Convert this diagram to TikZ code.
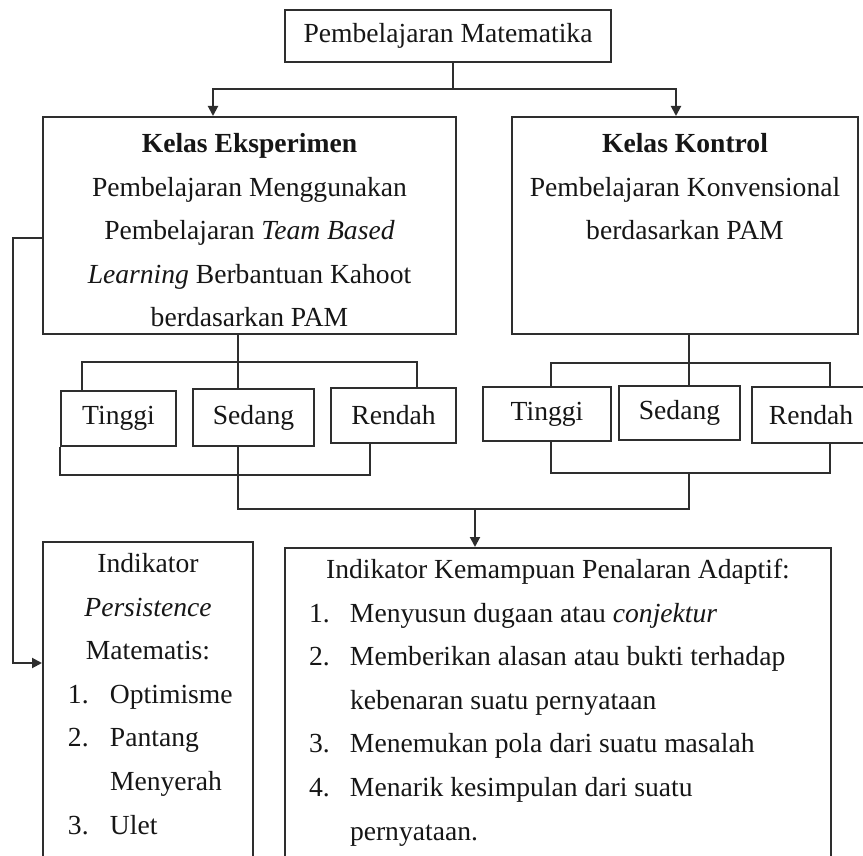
\documentclass[tikz,border=0pt]{standalone}
\usepackage{fontspec}
\setmainfont{Liberation Serif}
\usetikzlibrary{arrows.meta}
\definecolor{garis}{HTML}{2E2E2E}
\definecolor{teks}{HTML}{161616}
\newcommand{\isikotak}[3]{\parbox[c][#2][t]{#1}{#3}}
\newcommand{\butir}[3]{\hspace*{#1}\makebox[#2][l]{#3}}

\begin{document}
\begin{tikzpicture}[x=0.5pt,y=-0.5pt,font=\fontsize{13.8pt}{21.8pt}\selectfont,
  kotak/.style={draw=garis,line width=1pt,inner sep=0pt,text=teks},
  tingkat/.style={kotak,minimum height=27.5pt},
  sambung/.style={draw=garis,line width=1pt},
  panah/.style={-{Triangle[length=5pt,width=5pt]}}]
\useasboundingbox (0,0) rectangle (863,856);
\clip (0,0) rectangle (863,856);

\node[kotak,minimum width=163pt,minimum height=26pt] (top) at (448,36) {Pembelajaran Matematika};

\node[kotak] (eksp) at (249.5,225.5) {\isikotak{206.5pt}{108.5pt}{\vspace*{2.5pt}\centering\strut\textbf{Kelas Eksperimen}\\
  Pembelajaran Menggunakan\\ Pembelajaran \textit{Team Based}\\ \textit{Learning} Berbantuan Kahoot\\ berdasarkan PAM}};
\node[kotak] (kontrol) at (685,225.5) {\isikotak{173pt}{108.5pt}{\vspace*{2.5pt}\centering\strut\textbf{Kelas Kontrol}\\
  Pembelajaran Konvensional\\ berdasarkan PAM}};

\node[tingkat,minimum width=57.5pt] (tinggiA) at (118.5,418.5) {Tinggi};
\node[tingkat,minimum width=60.5pt,minimum height=28.5pt] (sedangA) at (253.5,417.5) {Sedang};
\node[tingkat,minimum width=62.5pt] (rendahA) at (393.5,415.5) {Rendah};
\node[tingkat,minimum width=64pt,minimum height=27pt] (tinggiB) at (547,414) {Tinggi};
\node[tingkat,minimum width=60.5pt,minimum height=27pt] (sedangB) at (679.5,413) {Sedang};
\node[tingkat,minimum width=59pt,minimum height=28pt] (rendahB) at (811,415) {Rendah};

\node[kotak] (indpers) at (148,711) {\isikotak{105pt}{169pt}{{\centering\strut Indikator\\ \textit{Persistence}\\ Matematis:\par}
  \raggedright
  \butir{12.5pt}{21pt}{1.}Optimisme\par
  \butir{12.5pt}{21pt}{2.}Pantang\par
  \hspace*{33.5pt}Menyerah\par
  \butir{12.5pt}{21pt}{3.}Ulet}};
\node[kotak] (indpenalaran) at (558,714) {\isikotak{273pt}{166pt}{{\centering\strut Indikator Kemampuan Penalaran Adaptif:\par}
  \raggedright
  \butir{12pt}{20.5pt}{1.}Menyusun dugaan atau \textit{conjektur}\par
  \butir{12pt}{20.5pt}{2.}Memberikan alasan atau bukti terhadap\par
  \hspace*{32.5pt}kebenaran suatu pernyataan\par
  \butir{12pt}{20.5pt}{3.}Menemukan pola dari suatu masalah\par
  \butir{12pt}{20.5pt}{4.}Menarik kesimpulan dari suatu\par
  \hspace*{32.5pt}pernyataan.}};

\coordinate (bagi) at (453,89);
\draw[sambung] (top.south -| bagi) -- (bagi);
\draw[sambung,panah] (bagi) -| ([xshift=-18.25pt]eksp.north);
\draw[sambung,panah] (bagi) -| ([xshift=-4.5pt]kontrol.north);

\draw[sambung,panah] ([yshift=-6.25pt]eksp.west) -- ++(-29,0) |- ([yshift=-61pt]indpers.north west);

\coordinate (jA) at (238,362);
\draw[sambung] (eksp.south -| jA) -- (sedangA.north -| jA);
\draw[sambung] ([xshift=11pt]tinggiA.north west) |- (jA) -| ([xshift=-20pt]rendahA.north east);
\draw[sambung] (tinggiA.south west) -- ++(0,28) -| ([xshift=20pt]rendahA.south west);

\coordinate (jB) at (689,363);
\coordinate (kurungB) at (689,472);
\draw[sambung] (kontrol.south -| jB) -- (sedangB.north -| jB);
\draw[sambung] ([xshift=34.5pt]tinggiB.north west) |- (jB) -| ([xshift=39.5pt]rendahB.north west);
\draw[sambung] ([xshift=34.5pt]tinggiB.south west) -- ++(0,31) -| ([xshift=39.5pt]rendahB.south west);

\coordinate (gabung) at (475,509);
\draw[sambung] (sedangA.south -| jA) |- (gabung);
\draw[sambung] (kurungB) |- (gabung);
\draw[sambung,panah] (gabung) -- (indpenalaran.north -| gabung);
\end{tikzpicture}
\end{document}
